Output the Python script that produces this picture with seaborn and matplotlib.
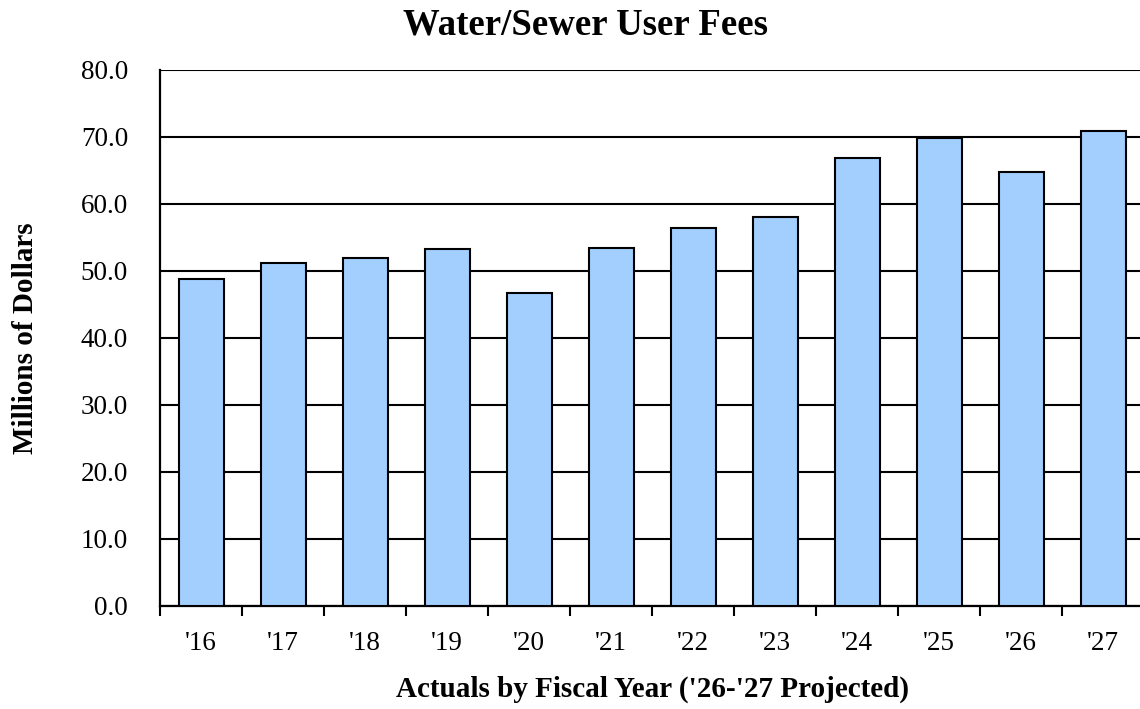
import numpy as np
import pandas as pd
import matplotlib
matplotlib.use("Agg")
import matplotlib.pyplot as plt
import seaborn as sns

years = ["'16", "'17", "'18", "'19", "'20", "'21", "'22", "'23", "'24", "'25", "'26", "'27"]
fees = [48.8, 51.2, 51.9, 53.3, 46.7, 53.4, 56.4, 58.1, 66.9, 69.8, 64.7, 70.9]
y_ticks = [0, 10, 20, 30, 40, 50, 60, 70, 80]

df = pd.DataFrame({"Year": years, "Fees": fees})

sns.set_style("white")
plt.rcParams['font.family'] = ['Liberation Serif', 'DejaVu Serif']
plt.rcParams['text.color'] = 'black'
plt.rcParams['axes.labelcolor'] = 'black'
plt.rcParams['xtick.color'] = 'black'
plt.rcParams['ytick.color'] = 'black'

fig = plt.figure(figsize=(11.4, 7.09), dpi=100)
ax = fig.add_axes([0.1404, 0.1453, 0.8632, 0.756])

sns.barplot(data=df, x="Year", y="Fees", color="#A2CFFE", width=0.55,
            edgecolor="black", linewidth=1.5, saturation=1, ax=ax, zorder=3)

ax.set_ylim(0, 80)
ax.set_xlim(-0.5, len(years) - 0.5)
ax.set_yticks(y_ticks)
ax.set_yticklabels([f"{v:.1f}" for v in y_ticks], fontsize=19.5)
ax.set_xticks(range(len(years)))
ax.set_xticklabels(years, fontsize=19.5)
ax.set_xticks(np.arange(-0.5, len(years), 1), minor=True)
ax.tick_params(axis='x', which='major', bottom=True, length=0, pad=18)
ax.tick_params(axis='x', which='minor', bottom=True, length=7, width=1.5, color='black', direction='out')
ax.tick_params(axis='y', left=False, length=0, pad=23)

ax.grid(axis='y', color='black', linewidth=1.5, zorder=0)
ax.set_axisbelow(True)
for side in ['top', 'right']:
    ax.spines[side].set_visible(False)
for side in ['left', 'bottom']:
    ax.spines[side].set_color('black')
    ax.spines[side].set_linewidth(1.6)

ax.set_xlabel("Actuals by Fiscal Year ('26-'27 Projected)", fontsize=21, fontweight='bold', labelpad=14)
ax.set_ylabel("Millions of Dollars", fontsize=21, fontweight='bold', labelpad=30)
fig.suptitle("Water/Sewer User Fees", fontsize=26.5, fontweight='bold', x=0.514, y=0.99)

fig.savefig("out.png", dpi=100)
